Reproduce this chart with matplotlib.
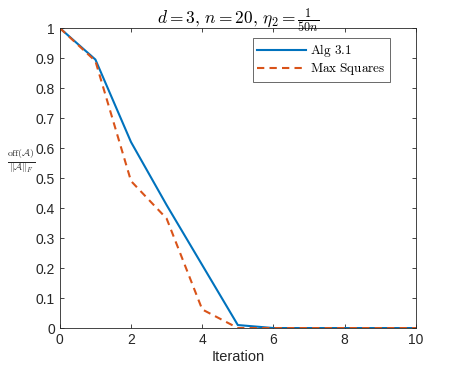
import matplotlib
matplotlib.use("Agg")
import matplotlib.pyplot as plt

iterations = [0, 1, 2, 3, 4, 5, 6, 7, 8, 9, 10]
alg31 = [1.0, 0.895, 0.62, 0.41, 0.21, 0.01, 0.0, 0.0, 0.0, 0.0, 0.0]
max_squares = [1.0, 0.89, 0.49, 0.365, 0.062, 0.0, 0.0, 0.0, 0.0, 0.0, 0.0]
xticks = [0, 2, 4, 6, 8, 10]
yticks = [0, 0.1, 0.2, 0.3, 0.4, 0.5, 0.6, 0.7, 0.8, 0.9, 1]
ytick_labels = ["0", "0.1", "0.2", "0.3", "0.4", "0.5", "0.6", "0.7", "0.8", "0.9", "1"]

plt.rcParams['mathtext.fontset'] = 'cm'
plt.rcParams['font.family'] = ['Liberation Sans', 'DejaVu Sans']

fig = plt.figure(figsize=(4.6, 3.69), dpi=100)
ax = fig.add_axes([0.130, 0.111, 0.774, 0.813])

ax.plot(iterations, alg31, color='#0072BD', lw=1.5, label=r'$\mathrm{Alg\ 3.1}$')
ax.plot(iterations, max_squares, color='#D95319', lw=1.5, ls=(0, (3.5, 2.5)),
        label=r'$\mathrm{Max\ Squares}$')

ax.set_xlim(0, 10)
ax.set_ylim(0, 1)
ax.set_xticks(xticks)
ax.set_yticks(yticks)
ax.set_yticklabels(ytick_labels)
ax.tick_params(direction='in', top=True, right=True, length=3, labelsize=10,
               colors='#262626', width=0.6)
for s in ax.spines.values():
    s.set_color('#262626')
    s.set_linewidth(0.6)

ax.set_xlabel('Iteration', fontsize=10.5, color='#262626', labelpad=2)
ax.set_ylabel(r'$\frac{\mathrm{off}(\mathcal{A})}{\|\mathcal{A}\|_F}$', fontsize=10,
              rotation=0, color='#262626', ha='center', va='center')
ax.yaxis.set_label_coords(-0.11, 0.555)
ax.set_title(r'$d=3,\, n=20,\, \eta_2=\frac{1}{50n}$', fontsize=12.5, pad=3)

leg = ax.legend(loc='upper right', fontsize=9.5, frameon=True, fancybox=False,
                bbox_to_anchor=(0.928, 0.968), handlelength=3.7, borderpad=0.35,
                labelspacing=0.15, handletextpad=0.3, borderaxespad=0)
leg.get_frame().set_edgecolor('#262626')
leg.get_frame().set_linewidth(0.6)

fig.savefig('out.png', dpi=100)
